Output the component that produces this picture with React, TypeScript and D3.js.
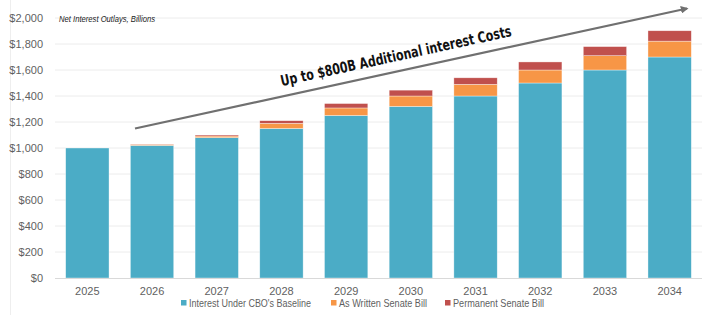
import { useMemo } from 'react'
import * as d3 from 'd3'

const YEARS = ['2025', '2026', '2027', '2028', '2029', '2030', '2031', '2032', '2033', '2034']
const BASELINE = [1000, 1020, 1080, 1150, 1250, 1320, 1400, 1500, 1600, 1700]
const AS_WRITTEN = [0, 8, 12, 40, 58, 80, 90, 100, 110, 122]
const PERMANENT = [0, 2, 8, 20, 34, 45, 50, 62, 70, 80]
const Y_TICKS = [0, 200, 400, 600, 800, 1000, 1200, 1400, 1600, 1800, 2000]

const SERIES = [
  { key: 'base', label: "Interest Under CBO's Baseline", color: '#4BACC6' },
  { key: 'written', label: 'As Written Senate Bill', color: '#F79646' },
  { key: 'perm', label: 'Permanent Senate Bill', color: '#C0504D' },
]

const W = 704
const H = 315
const FONT = "'Liberation Sans', Arial, sans-serif"

export default function App() {
  const x = d3.scaleBand().domain(YEARS).range([55, 702]).paddingInner(0.33).paddingOuter(0.165)
  const y = d3.scaleLinear().domain([0, 2000]).range([278, 18])

  const stacked = useMemo(() => {
    const rows = YEARS.map((year, i) => ({
      year,
      base: BASELINE[i],
      written: AS_WRITTEN[i],
      perm: PERMANENT[i],
    }))
    return d3.stack<any>().keys(SERIES.map((s) => s.key))(rows)
  }, [])

  const fmt = d3.format(',')
  // legend slots: marker x, label width (Calibri-like narrow text in the original)
  const legendX = [181, 331, 445]
  const legendW = [122, 88, 91]

  return (
    <svg
      width={W}
      height={H}
      style={{ position: 'absolute', left: 0, top: 0, background: '#fff' }}
      fontFamily={FONT}
    >
      <defs>
        <marker id="head" viewBox="0 0 10 10" refX="8" refY="5" markerWidth="3.5" markerHeight="3.5" orient="auto">
          <path d="M0,0 L10,5 L0,10 z" fill="#707070" />
        </marker>
      </defs>
      <line x1={10.5} x2={10.5} y1={0} y2={H} stroke="#eeeeee" />

      {Y_TICKS.map((t) => (
        <g key={t}>
          {t > 0 && <line x1={55} x2={702} y1={y(t)} y2={y(t)} stroke="#ececec" strokeWidth={1} />}
          <text x={43} y={y(t)} dy="0.35em" textAnchor="end" fontSize={11} fill="#5f5f5f">
            ${fmt(t)}
          </text>
        </g>
      ))}

      {stacked.map((layer, si) => (
        <g key={layer.key} fill={SERIES[si].color}>
          {layer.map((d) =>
            d[1] - d[0] > 0 ? (
              <rect
                key={d.data.year}
                x={x(d.data.year)}
                width={x.bandwidth()}
                y={y(d[1])}
                height={y(d[0]) - y(d[1])}
                stroke="#fff"
                strokeOpacity={0.6}
                strokeWidth={0.6}
              />
            ) : null,
          )}
        </g>
      ))}

      <line x1={55} x2={702} y1={278.5} y2={278.5} stroke="#d9d9d9" strokeWidth={1} />
      {YEARS.map((yr) => (
        <text key={yr} x={x(yr)! + x.bandwidth() / 2} y={295} textAnchor="middle" fontSize={11} fill="#5f5f5f">
          {yr}
        </text>
      ))}

      <text x={59} y={22} fontSize={8.5} fontStyle="italic" fill="#222" textLength={96} lengthAdjust="spacingAndGlyphs">
        Net Interest Outlays, Billions
      </text>

      <line x1={135} y1={128.5} x2={687} y2={8.5} stroke="#707070" strokeWidth={2.2} markerEnd="url(#head)" />
      <text
        transform="translate(397,61) rotate(-12.3)"
        textAnchor="middle"
        fontSize={15}
        fontWeight="bold"
        fill="#111"
        fontFamily="'DejaVu Sans', sans-serif"
        textLength={236}
        lengthAdjust="spacingAndGlyphs"
      >
        Up to $800B Additional interest Costs
      </text>

      {SERIES.map((s, i) => (
        <g key={s.key} transform={`translate(${legendX[i]},306)`}>
          <rect x={0} y={-6} width={5.5} height={5.5} fill={s.color} />
          <text x={8} y={0.5} fontSize={11} fill="#5f5f5f" textLength={legendW[i]} lengthAdjust="spacingAndGlyphs">
            {s.label}
          </text>
        </g>
      ))}
    </svg>
  )
}
